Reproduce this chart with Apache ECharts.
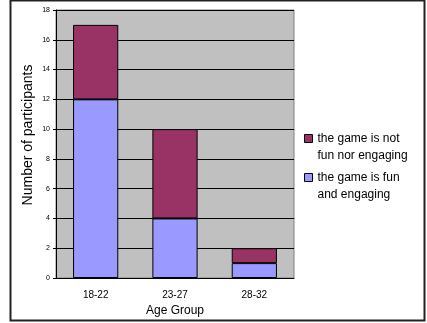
<!DOCTYPE html>
<html>
<head>
<meta charset="utf-8">
<script src="https://cdn.jsdelivr.net/npm/echarts@6/dist/echarts.min.js"></script>
<style>
  html, body { margin: 0; padding: 0; background: #fff; }
  #chart { width: 427px; height: 323px; }
</style>
</head>
<body>
<div id="chart"></div>
<script>
// Age groups along the x axis
const ageGroups = ['18-22', '23-27', '28-32'];
// Participants who found the game fun and engaging (bottom of each stack)
const funEngaging = [12, 4, 1];
// Participants who did not (top of each stack)
const notFunEngaging = [5, 6, 1];
const seriesNames = ['the game is fun\nand engaging', 'the game is not\nfun nor engaging'];
const yTicks = { min: 0, max: 18, interval: 2 };

const FONT = '"Liberation Sans", Arial, sans-serif';
const chart = echarts.init(document.getElementById('chart'), null, { renderer: 'canvas' });

chart.setOption({
  backgroundColor: '#fff',
  animation: false,
  textStyle: { fontFamily: FONT, color: '#000' },
  grid: {
    left: 56, top: 10, right: 133, bottom: 45,
    show: true, backgroundColor: '#C0C0C0', borderColor: '#808080', borderWidth: 1
  },
  legend: {
    orient: 'vertical',
    left: 304, top: 113, padding: 0,
    itemWidth: 8, itemHeight: 8, itemGap: -12,
    data: [seriesNames[1], seriesNames[0]],
    icon: 'rect',
    // a leading empty line keeps the swatch level with the first text line
    formatter: name => ' \n' + name,
    itemStyle: { borderColor: '#000', borderWidth: 1 },
    textStyle: { fontFamily: FONT, fontSize: 12, color: '#000', lineHeight: 17 }
  },
  xAxis: {
    type: 'category',
    data: ageGroups,
    name: 'Age Group',
    nameLocation: 'middle',
    nameGap: 27,
    nameMoveOverlap: false,
    nameTextStyle: { fontSize: 12, color: '#000', fontFamily: FONT },
    axisLine: { lineStyle: { color: '#000', width: 1 } },
    axisTick: { show: false },
    axisLabel: { fontSize: 10, color: '#000', margin: 12, fontFamily: FONT }
  },
  yAxis: {
    type: 'value',
    min: yTicks.min, max: yTicks.max, interval: yTicks.interval,
    name: 'Number of participants',
    nameLocation: 'middle',
    nameGap: 21,
    nameMoveOverlap: false,
    nameTextStyle: { fontSize: 14, color: '#000', fontFamily: FONT, padding: [0, 0, 0, 18] },
    axisLine: { show: true, lineStyle: { color: '#000', width: 1 } },
    axisTick: { show: true, length: 3, lineStyle: { color: '#000' } },
    axisLabel: { fontSize: 7, color: '#000', margin: 6, fontFamily: FONT },
    splitLine: { show: true, lineStyle: { color: '#000', width: 1 } }
  },
  series: [
    {
      name: seriesNames[0], type: 'bar', stack: 'total', barWidth: '57%',
      data: funEngaging,
      itemStyle: { color: '#9999FF', borderColor: '#000', borderWidth: 1 }
    },
    {
      name: seriesNames[1], type: 'bar', stack: 'total', barWidth: '57%',
      data: notFunEngaging,
      itemStyle: { color: '#993366', borderColor: '#000', borderWidth: 1 }
    }
  ],
  graphic: [{
    type: 'rect', silent: true, z: 100,
    shape: { x: 10.5, y: 0.5, width: 414, height: 320 },
    style: { fill: 'none', stroke: '#222', lineWidth: 2 }
  }]
});
</script>
</body>
</html>
